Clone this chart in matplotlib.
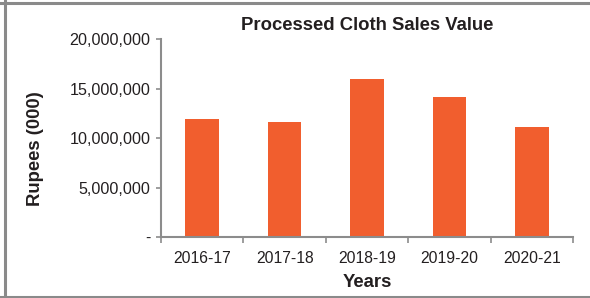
import matplotlib
matplotlib.use("Agg")
import matplotlib.pyplot as plt
from matplotlib.lines import Line2D
from matplotlib.ticker import FuncFormatter, FixedLocator

categories = ["2016-17", "2017-18", "2018-19", "2019-20", "2020-21"]
values = [11950000, 11600000, 15950000, 14200000, 11100000]
yticks = [0, 5000000, 10000000, 15000000, 20000000]

plt.rcParams['font.family'] = ['Liberation Sans', 'DejaVu Sans']
text_color = "#231f20"
spine_color = "#8c8c8c"
bar_color = "#f15e2e"

W, H = 590, 298
fig = plt.figure(figsize=(W / 100, H / 100), dpi=100)
ax = fig.add_axes([161 / W, 1 - 237 / H, (573 - 161) / W, (237 - 39.3) / H])

x = list(range(len(categories)))
ax.bar(x, values, width=0.41, color=bar_color, zorder=2)

ax.set_xlim(-0.5, len(categories) - 0.5)
ax.set_ylim(0, 20000000)
ax.set_xticks(x)
ax.set_xticklabels(categories)
ax.xaxis.set_minor_locator(FixedLocator([i - 0.5 for i in range(len(categories) + 1)]))
ax.tick_params(axis='x', which='major', length=0, pad=10, labelsize=11.3, labelcolor=text_color)
ax.tick_params(axis='x', which='minor', length=4.5, width=1.2, color=spine_color, direction='out')

ax.set_yticks(yticks)
ax.yaxis.set_major_formatter(FuncFormatter(lambda v, p: "-" if v == 0 else f"{int(v):,}"))
ax.tick_params(axis='y', length=3.5, width=1.2, color=spine_color, pad=4, labelsize=11.6, labelcolor=text_color)

for s in ['top', 'right']:
    ax.spines[s].set_visible(False)
for s in ['left', 'bottom']:
    ax.spines[s].set_color(spine_color)
    ax.spines[s].set_linewidth(1.5)

ax.set_title("Processed Cloth Sales Value", fontsize=13.3, fontweight='bold', color=text_color, pad=7)
ax.set_xlabel("Years", fontsize=13.3, fontweight='bold', color=text_color, labelpad=6)
ax.set_ylabel("Rupees (000)", fontsize=13.3, fontweight='bold', color=text_color, va='center')
ax.yaxis.set_label_coords(35 / W, 0.5, transform=fig.transFigure)

# outer frame (left, top, bottom visible)
fc = "#8a8a8a"
fig.add_artist(Line2D([4.5 / W, 4.5 / W], [0, 1], transform=fig.transFigure, color=fc, lw=2.2))
fig.add_artist(Line2D([0, 1], [1 - 3 / H, 1 - 3 / H], transform=fig.transFigure, color=fc, lw=2.2))
fig.add_artist(Line2D([0, 1], [1 - 296.5 / H, 1 - 296.5 / H], transform=fig.transFigure, color=fc, lw=2.2))

fig.savefig("out.png", dpi=100)
